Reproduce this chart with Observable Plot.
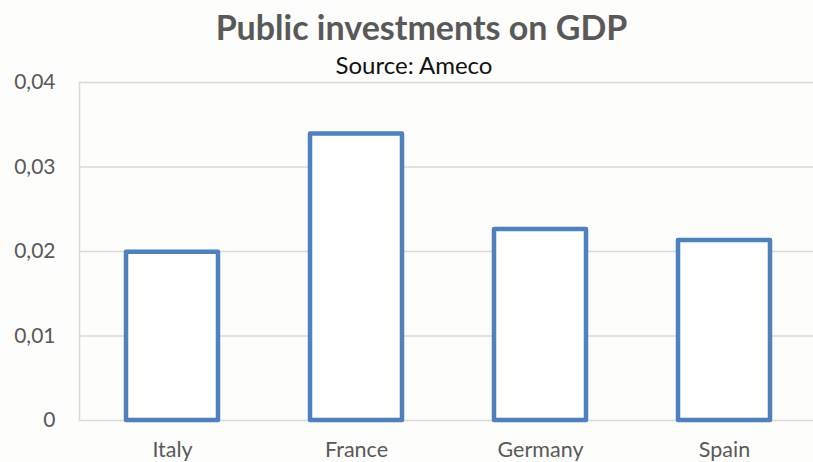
<!DOCTYPE html>
<html>
<head>
<meta charset="utf-8">
<script src="https://cdn.jsdelivr.net/npm/d3@7"></script>
<script src="https://cdn.jsdelivr.net/npm/@observablehq/plot@0.6"></script>
<style>
  html, body { margin: 0; padding: 0; background: #fdfdfb; }
  #wrap { width: 813px; height: 462px; position: relative; overflow: hidden; font-family: Lato, "Open Sans", sans-serif; }
  #head { height: 74px; position: relative; }
  #title { position: absolute; left: 0; width: 843px; top: 7px; text-align: center; font-weight: bold; font-size: 34px; color: #595959; line-height: 40px; white-space: nowrap; }
  #sub { position: absolute; left: 0; width: 828px; top: 51px; text-align: center; font-size: 24px; color: #111; line-height: 28px; white-space: nowrap; }
  #chart svg { overflow: visible; }
</style>
</head>
<body>
<div id="wrap">
  <div id="head">
    <div id="title">Public investments on GDP</div>
    <div id="sub">Source: Ameco</div>
  </div>
  <div id="chart"></div>
</div>
<script>
const countries = ["Italy", "France", "Germany", "Spain"];
const values = [0.0199, 0.0339, 0.0226, 0.0213];
const yTicks = [0, 0.01, 0.02, 0.03, 0.04];

const data = countries.map((c, i) => ({country: c, value: values[i]}));
const fmt = d => d === 0 ? "0" : d.toFixed(2).replace(".", ",");

const chart = Plot.plot({
  width: 813,
  height: 388,
  marginLeft: 79,
  marginRight: 0,
  marginTop: 8,
  marginBottom: 42,
  style: {background: "transparent", color: "#595959", fontSize: "21px", fontFamily: "Lato, 'Open Sans', sans-serif", overflow: "visible"},
  x: {domain: countries, range: [78, 817], paddingInner: 0.5, paddingOuter: 0.25, label: null},
  y: {domain: [0, 0.04], label: null},
  marks: [
    Plot.ruleY(yTicks, {stroke: "#d9d9d9", strokeWidth: 1.5}),
    Plot.frame({anchor: "left", stroke: "#d9d9d9", strokeWidth: 1.5}),
    Plot.axisY({ticks: yTicks, tickFormat: fmt, tickSize: 0, tickPadding: 24, label: null}),
    Plot.axisX({tickSize: 0, tickPadding: 21, fontSize: 21.5, label: null}),
    Plot.barY(data, {x: "country", y: "value", fill: "#ffffff", stroke: "#4F81BD", strokeWidth: 4.5, strokeLinejoin: "round"})
  ]
});
document.getElementById("chart").appendChild(chart);
</script>
</body>
</html>
